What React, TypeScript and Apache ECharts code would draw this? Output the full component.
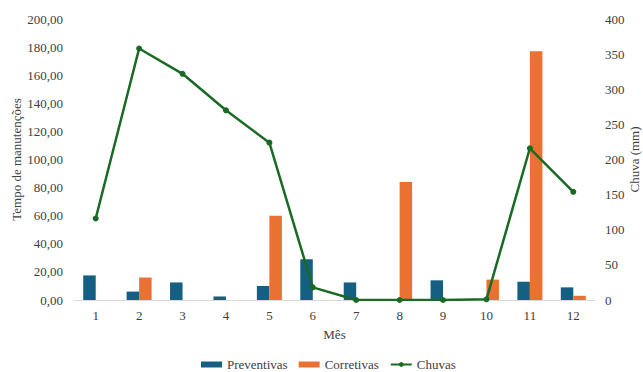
import React, { useEffect, useRef } from "react";
import * as echarts from "echarts";

// Monthly maintenance time (hours) and rainfall (mm)
const months = ["1", "2", "3", "4", "5", "6", "7", "8", "9", "10", "11", "12"];
const preventivas = [17.5, 6, 12.5, 2.5, 10, 29, 12.5, 0, 14, 0, 13, 9];
const corretivas = [0, 16, 0, 0, 60, 0, 0, 84, 0, 14.5, 177, 3];
const chuvas = [116, 358, 322, 270, 224, 18, 0, 0, 0, 1, 216, 154];

const FONT = "Liberation Serif";
const TEXT = "#404040";
const baseText = { fontFamily: FONT, fontSize: 13, color: TEXT };

export default function App() {
  const ref = useRef<HTMLDivElement>(null);

  useEffect(() => {
    if (!ref.current) return;
    const chart = echarts.init(ref.current, undefined, { renderer: "svg" });
    chart.setOption({
      animation: false,
      textStyle: { fontFamily: FONT, color: TEXT },
      grid: {
        left: 74,
        right: 48,
        top: 19,
        bottom: 72,
        containLabel: false,
        outerBoundsMode: "none",
      },
      legend: {
        top: 358,
        left: 201,
        padding: 0,
        itemGap: 11,
        itemWidth: 21,
        itemHeight: 6,
        formatter: "{t|{name}}",
        textStyle: {
          ...baseText,
          rich: { t: { ...baseText } },
        },
        data: [
          { name: "Preventivas", icon: "rect" },
          { name: "Corretivas", icon: "rect" },
          { name: "Chuvas" },
        ],
      },
      xAxis: {
        type: "category",
        data: months,
        name: "Mês",
        nameLocation: "middle",
        nameGap: 28,
        nameMoveOverlap: false,
        nameTextStyle: baseText,
        axisLine: { lineStyle: { color: "#d9d9d9", width: 1 } },
        axisTick: { show: false },
        axisLabel: { ...baseText, margin: 9 },
      },
      yAxis: [
        {
          type: "value",
          min: 0,
          max: 200,
          interval: 20,
          name: "Tempo de manutenções",
          nameLocation: "middle",
          nameGap: 51,
          nameMoveOverlap: false,
          nameTextStyle: baseText,
          axisLine: { show: false },
          axisTick: { show: false },
          splitLine: { show: false },
          axisLabel: {
            ...baseText,
            margin: 11,
            formatter: (v: number) => v.toFixed(2).replace(".", ","),
          },
        },
        {
          type: "value",
          min: 0,
          max: 400,
          interval: 50,
          name: "Chuva (mm)",
          nameLocation: "middle",
          nameGap: 33,
          nameRotate: 90,
          nameMoveOverlap: false,
          nameTextStyle: baseText,
          axisLine: { show: false },
          axisTick: { show: false },
          splitLine: { show: false },
          axisLabel: { ...baseText, margin: 10 },
        },
      ],
      series: [
        {
          name: "Preventivas",
          type: "bar",
          data: preventivas,
          barWidth: 12.5,
          barGap: "0%",
          itemStyle: { color: "#156082" },
        },
        {
          name: "Corretivas",
          type: "bar",
          data: corretivas,
          barWidth: 12.5,
          barGap: "0%",
          itemStyle: { color: "#E97132" },
        },
        {
          name: "Chuvas",
          type: "line",
          yAxisIndex: 1,
          data: chuvas,
          symbol: "circle",
          symbolSize: 6,
          lineStyle: { color: "#196B24", width: 2.5 },
          itemStyle: { color: "#196B24" },
        },
      ],
    });
    return () => chart.dispose();
  }, []);

  return (
    <div
      ref={ref}
      style={{ width: 643, height: 372, position: "absolute", left: 0, top: 0, background: "#fff" }}
    />
  );
}
